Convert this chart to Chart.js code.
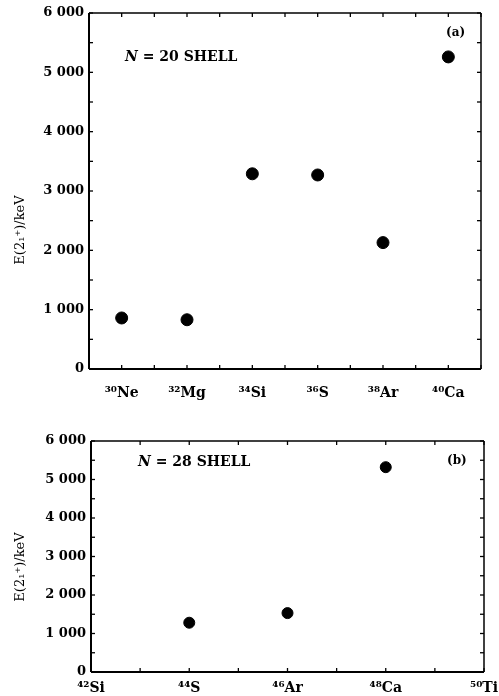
<!DOCTYPE html>
<html>
<head>
<meta charset="utf-8">
<script src="https://cdn.jsdelivr.net/npm/chart.js@4.4.1/dist/chart.umd.min.js"></script>
<style>
  body { margin: 0; background: #fff; }
  #wrapA { position: absolute; left: 0; top: 0; width: 499px; height: 400px; }
  #wrapB { position: absolute; left: 0; top: 420px; width: 499px; height: 276px; }
</style>
</head>
<body>
<div id="wrapA"><canvas id="chartA" width="499" height="400"></canvas></div>
<div id="wrapB"><canvas id="chartB" width="499" height="276"></canvas></div>
<script>
// panel (a): N = 20 isotones
const nucleiA = ['³⁰Ne', '³²Mg', '³⁴Si', '³⁶S', '³⁸Ar', '⁴⁰Ca'];
const energyA = [860, 830, 3290, 3270, 2130, 5260];

// panel (b): N = 28 isotones
const nucleiB = ['⁴²Si', '⁴⁴S', '⁴⁶Ar', '⁴⁸Ca', '⁵⁰Ti'];
const measuredB = [1, 2, 3]; // index into nucleiB
const energyB = [1280, 1530, 5320];

const yTickValues = [0, 1000, 2000, 3000, 4000, 5000, 6000];
const yTitle = 'E(2₁⁺)/keV';

const serif = '"DejaVu Serif", "Liberation Serif", serif';

function fmt(v) {
    // 6000 -> "6 000"
    if (v < 1000) return String(v);
    return Math.floor(v / 1000) + ' ' + String(v % 1000).padStart(3, '0');
}

// box around the plot, inward ticks, y title and the little notes
const framePlugin = {
    id: 'frame',
    afterDatasetsDraw(chart, args, opts) {
        const ctx = chart.ctx;
        const a = chart.chartArea;
        const x = chart.scales.x, y = chart.scales.y;
        ctx.save();
        ctx.strokeStyle = '#000';
        ctx.lineCap = 'butt';
        const seg = (x1, y1, x2, y2, w) => {
            ctx.lineWidth = w;
            ctx.beginPath(); ctx.moveTo(x1, y1); ctx.lineTo(x2, y2); ctx.stroke();
        };
        seg(a.left, a.bottom, a.right, a.bottom, 2);
        seg(a.left, a.top, a.left, a.bottom, 2);
        seg(a.left, a.top, a.right, a.top, 1.5);
        seg(a.right, a.top, a.right, a.bottom, 1.5);
        x.ticks.forEach(t => {
            const px = x.getPixelForValue(t.value);
            seg(px, a.bottom, px, a.bottom - 4, 1.3);
            seg(px, a.top, px, a.top + 4, 1.3);
        });
        y.ticks.forEach(t => {
            const py = y.getPixelForValue(t.value);
            seg(a.left, py, a.left + 4, py, 1.3);
            seg(a.right, py, a.right - 4, py, 1.3);
        });

        // y axis title
        ctx.fillStyle = '#000';
        ctx.font = '13px ' + serif;
        ctx.textAlign = 'center';
        ctx.textBaseline = 'middle';
        ctx.translate(opts.titleX, opts.titleY);
        ctx.rotate(-Math.PI / 2);
        ctx.fillText(yTitle, 0, 0);
        ctx.setTransform(1, 0, 0, 1, 0, 0);

        // notes
        ctx.textAlign = 'left';
        opts.notes.forEach(n => {
            let cx = n.x;
            n.parts.forEach(p => {
                ctx.font = (p.italic ? 'italic ' : '') + 'bold ' + n.size + 'px ' + serif;
                ctx.fillText(p.text, cx, n.y);
                cx += ctx.measureText(p.text).width;
            });
        });
        ctx.restore();
    }
};

function makeChart(id, cfg) {
    const fixed = cfg.fixed;
    return new Chart(document.getElementById(id).getContext('2d'), {
        type: 'scatter',
        data: {
            datasets: [{
                data: cfg.points,
                backgroundColor: '#000',
                borderColor: '#000',
                pointRadius: cfg.radius,
                pointHoverRadius: cfg.radius
            }]
        },
        options: {
            responsive: false,
            animation: false,
            layout: { padding: { top: fixed.top, right: fixed.right, left: 0, bottom: 0 } },
            plugins: {
                legend: { display: false },
                tooltip: { enabled: false },
                frame: { titleX: cfg.titleX, titleY: cfg.titleY, notes: cfg.notes }
            },
            scales: {
                x: {
                    type: 'linear',
                    min: cfg.xMin,
                    max: cfg.xMax,
                    afterFit: s => {
                        s.height = fixed.xHeight;
                        // edge labels may hang past the frame, as in the original
                        s.paddingLeft = 0;
                        s.paddingRight = 0;
                    },
                    grid: { display: false, drawTicks: false },
                    border: { display: false },
                    ticks: {
                        stepSize: 0.5,
                        autoSkip: false,
                        maxRotation: 0,
                        padding: cfg.xPad,
                        color: '#000',
                        font: { family: serif, size: 14, weight: 'bold' },
                        callback: v => Number.isInteger(v) ? (cfg.labels[v] || '') : ''
                    }
                },
                y: {
                    min: 0,
                    max: 6000,
                    afterFit: s => { s.width = fixed.yWidth; },
                    grid: { display: false, drawTicks: false },
                    border: { display: false },
                    ticks: {
                        stepSize: 500,
                        autoSkip: false,
                        padding: 5,
                        color: '#000',
                        font: { family: serif, size: 13, weight: 'bold' },
                        callback: v => yTickValues.includes(v) ? fmt(v) : ''
                    }
                }
            }
        },
        plugins: [framePlugin]
    });
}

makeChart('chartA', {
    points: energyA.map((e, i) => ({ x: i, y: e })),
    labels: nucleiA,
    xMin: -0.5, xMax: 5.5, xPad: 16,
    radius: 6,
    fixed: { top: 13, right: 18, xHeight: 31, yWidth: 89 },
    titleX: 21, titleY: 230,
    notes: [
        { x: 125, y: 57, size: 14, parts: [{ text: 'N', italic: true }, { text: ' = 20 SHELL' }] },
        { x: 446, y: 33, size: 12, parts: [{ text: '(a)' }] }
    ]
});

makeChart('chartB', {
    points: energyB.map((e, i) => ({ x: measuredB[i], y: e })),
    labels: nucleiB,
    xMin: 0, xMax: 4, xPad: 8,
    radius: 5.5,
    fixed: { top: 21, right: 15, xHeight: 24, yWidth: 91 },
    titleX: 21, titleY: 147,
    notes: [
        { x: 138, y: 42, size: 14, parts: [{ text: 'N', italic: true }, { text: ' = 28 SHELL' }] },
        { x: 447, y: 41, size: 12, parts: [{ text: '(b)' }] }
    ]
});
</script>
</body>
</html>
